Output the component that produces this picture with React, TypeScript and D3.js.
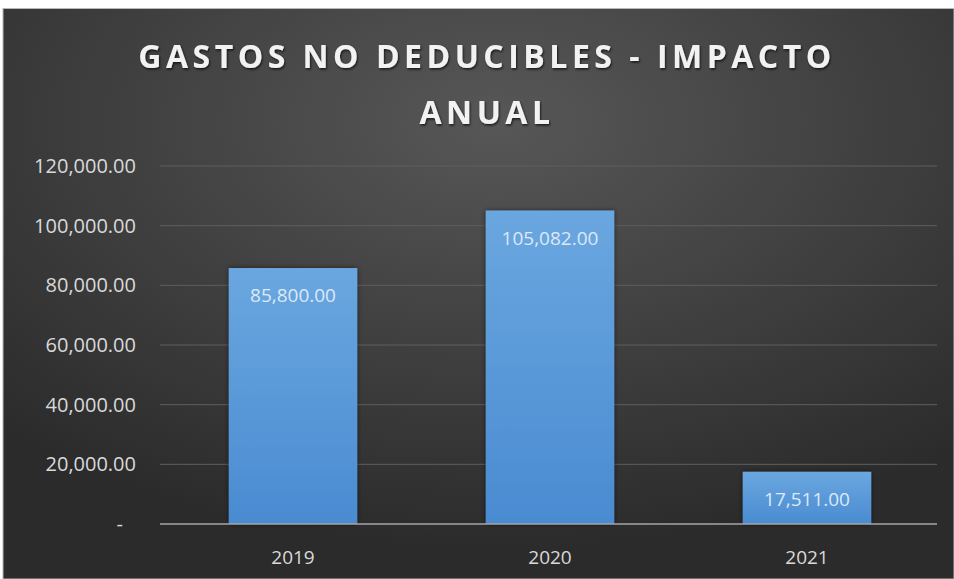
import React, { useRef, useEffect } from 'react';
import * as d3 from 'd3';

const years = ['2019', '2020', '2021'];
const values = [85800, 105082, 17511];
const yTicks = [0, 20000, 40000, 60000, 80000, 100000, 120000];
const titleLines = ['GASTOS NO DEDUCIBLES - IMPACTO', 'ANUAL'];

const W = 954;
const H = 579;

const fmt = (v: number) => (v === 0 ? '-' : d3.format(',.2f')(v));

const App = () => {
  const ref = useRef(null);

  useEffect(() => {
    if (!ref.current) return;
    const svg = d3.select(ref.current);
    svg.selectAll('*').remove();

    const defs = svg.append('defs');
    // fondo con degradado radial
    const bg = defs
      .append('radialGradient')
      .attr('id', 'bg')
      .attr('cx', '0.52')
      .attr('cy', '0.2')
      .attr('r', '0.75');
    bg.append('stop').attr('offset', '0%').attr('stop-color', '#575757');
    bg.append('stop').attr('offset', '100%').attr('stop-color', '#2b2b2b');

    const barGrad = defs
      .append('linearGradient')
      .attr('id', 'bar')
      .attr('x1', 0)
      .attr('y1', 0)
      .attr('x2', 0)
      .attr('y2', 1);
    barGrad.append('stop').attr('offset', '0%').attr('stop-color', '#6aa7e0');
    barGrad.append('stop').attr('offset', '100%').attr('stop-color', '#4a8bd1');

    const shadow = defs.append('filter').attr('id', 'sh').attr('x', '-20%').attr('y', '-20%').attr('width', '140%').attr('height', '140%');
    shadow
      .append('feDropShadow')
      .attr('dx', 0)
      .attr('dy', 0)
      .attr('stdDeviation', 2.5)
      .attr('flood-color', '#000')
      .attr('flood-opacity', 0.55);

    const tshadow = defs.append('filter').attr('id', 'tsh');
    tshadow
      .append('feDropShadow')
      .attr('dx', 1)
      .attr('dy', 1.5)
      .attr('stdDeviation', 1.2)
      .attr('flood-color', '#000')
      .attr('flood-opacity', 0.7);

    // página blanca + área del gráfico
    svg.append('rect').attr('width', W).attr('height', H).attr('fill', '#ffffff');
    svg
      .append('rect')
      .attr('x', 3)
      .attr('y', 8.5)
      .attr('width', W - 3)
      .attr('height', H - 8.5)
      .attr('fill', 'url(#bg)')
      .attr('stroke', '#b8b8b8')
      .attr('stroke-width', 1);

    const x = d3.scaleBand().domain(years).range([164.5, 935.5]).paddingInner(0.5).paddingOuter(0.25);
    const y = d3.scaleLinear().domain([0, 120000]).range([524, 166]);

    // cuadrícula
    svg
      .append('g')
      .selectAll('line')
      .data(yTicks.filter((d) => d > 0))
      .enter()
      .append('line')
      .attr('x1', 160)
      .attr('x2', 937)
      .attr('y1', (d) => y(d))
      .attr('y2', (d) => y(d))
      .attr('stroke', '#5e5e5e')
      .attr('stroke-width', 1);

    // etiquetas eje Y
    svg
      .append('g')
      .selectAll('text')
      .data(yTicks)
      .enter()
      .append('text')
      .text((d) => fmt(d))
      .attr('x', (d) => (d === 0 ? 123 : 136))
      .attr('y', (d) => y(d) + 7)
      .attr('text-anchor', 'end')
      .attr('font-size', '20px')
      .attr('fill', '#d9d9d9')
      .style('font-family', 'Open Sans');

    // barras
    svg
      .append('g')
      .selectAll('rect')
      .data(values)
      .enter()
      .append('rect')
      .attr('x', (d, i) => x(years[i]) as number)
      .attr('y', (d) => y(d))
      .attr('width', x.bandwidth())
      .attr('height', (d) => y(0) - y(d))
      .attr('fill', 'url(#bar)')
      .attr('filter', 'url(#sh)');

    // eje X
    svg
      .append('line')
      .attr('x1', 160)
      .attr('x2', 937)
      .attr('y1', y(0))
      .attr('y2', y(0))
      .attr('stroke', '#a6a6a6')
      .attr('stroke-width', 1.5);

    // etiquetas de datos
    svg
      .append('g')
      .selectAll('text')
      .data(values)
      .enter()
      .append('text')
      .text((d) => fmt(d))
      .attr('x', (d, i) => (x(years[i]) as number) + x.bandwidth() / 2)
      .attr('y', (d) => y(d) + 34)
      .attr('text-anchor', 'middle')
      .attr('font-size', '19px')
      .attr('fill', '#dce9f6')
      .style('font-family', 'Open Sans');

    // categorías
    svg
      .append('g')
      .selectAll('text')
      .data(years)
      .enter()
      .append('text')
      .text((d) => d)
      .attr('x', (d) => (x(d) as number) + x.bandwidth() / 2)
      .attr('y', 564)
      .attr('text-anchor', 'middle')
      .attr('font-size', '19px')
      .attr('fill', '#d9d9d9')
      .style('font-family', 'Open Sans');

    // título
    svg
      .append('g')
      .selectAll('text')
      .data(titleLines)
      .enter()
      .append('text')
      .text((d) => d)
      .attr('x', 487)
      .attr('y', (d, i) => 68 + i * 56)
      .attr('text-anchor', 'middle')
      .attr('font-size', '32px')
      .attr('font-weight', 'bold')
      .attr('letter-spacing', '4.5px')
      .attr('fill', '#f2f2f2')
      .attr('filter', 'url(#tsh)')
      .style('font-family', 'Open Sans');
  }, []);

  return (
    <svg
      ref={ref}
      width={W}
      height={H}
      style={{ position: 'absolute', left: 0, top: 0 }}
    />
  );
};

export default App;
